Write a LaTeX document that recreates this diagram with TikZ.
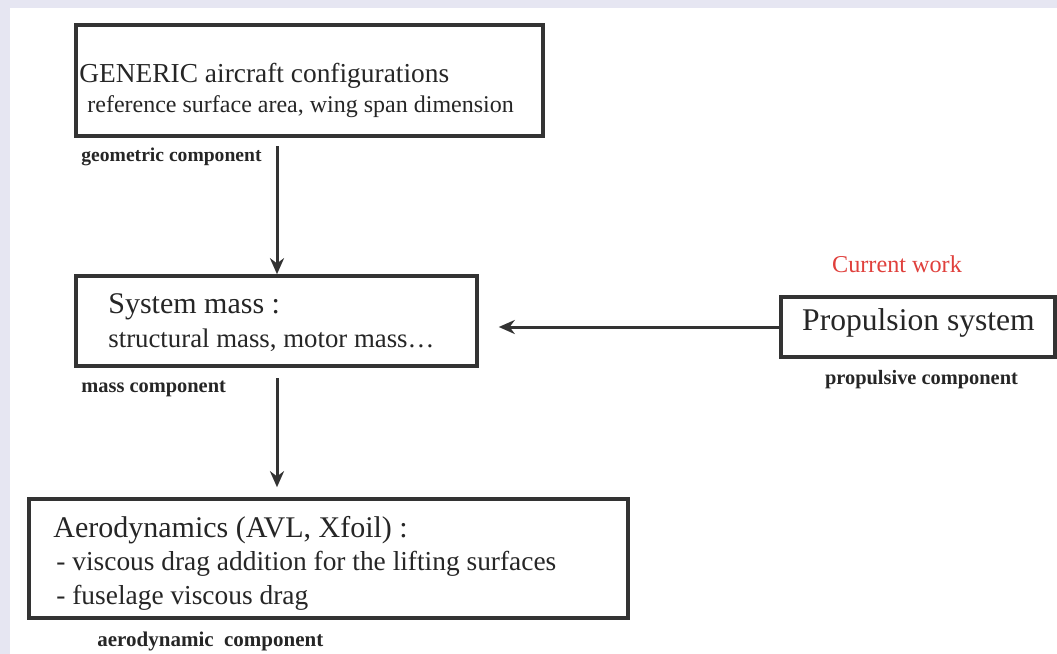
\documentclass[tikz,border=0pt]{standalone}
\usepackage{fontspec}
\setmainfont{Liberation Serif}
\usepackage{xcolor}
\usetikzlibrary{arrows.meta,positioning}

\definecolor{framebg}{HTML}{E6E6F2}
\definecolor{boxgray}{HTML}{333333}
\definecolor{txtgray}{HTML}{262626}
\definecolor{workred}{HTML}{E0403C}

\tikzset{
	box/.style={draw=boxgray, line width=1.8pt, inner sep=0pt},
	lbl/.style={anchor=base west, inner sep=0pt, text=txtgray},
	comp/.style={lbl, font=\bfseries\fontsize{10.2}{12}\selectfont},
	arr/.style={draw=boxgray, line width=1.5pt, -{Stealth[length=8pt,width=7pt]}}
}

\begin{document}
\begin{tikzpicture}[x=0.5pt, y=-0.5pt]
		\useasboundingbox (0,0) rectangle (1057,654);
		\fill[framebg] (0,0) rectangle (1057,654);
		\fill[white] (10,8) rectangle (1057,654);
		
		\node[box, minimum width=233.5pt, minimum height=55.5pt] (geom) at (309.5,80.5) {};
		\node[box, minimum width=200.5pt, minimum height=45pt] (mass) at (276.5,321) {};
		\node[box, minimum width=299.5pt, minimum height=59.5pt] (aero) at (328.5,558.5) {};
		\node[box, minimum width=137pt, minimum height=30pt] (prop) at (918,327) {};
		
		\node[lbl, font=\fontsize{13.7}{16}\selectfont] (geomtitle) at (79,82) {GENERIC aircraft configurations};
		\node[lbl, font=\fontsize{12}{14}\selectfont] (geomsub) at (87,112) {reference surface area, wing span dimension};
		\node[comp, font=\bfseries\fontsize{9.8}{12}\selectfont] (geomlbl) at (81,161) {geometric component};
		
		\node[lbl, font=\fontsize{15}{18}\selectfont] (masstitle) at (108,313) {System mass :};
		\node[lbl, font=\fontsize{13.4}{16}\selectfont] (masssub) at (108,347) {structural mass, motor mass\ldots};
		\node[comp] (masslbl) at (81,392) {mass component};
		
		\node[lbl, font=\fontsize{15}{18}\selectfont] (aerotitle) at (53,537) {Aerodynamics (AVL, Xfoil) :};
		\node[lbl, font=\fontsize{13.7}{16}\selectfont] (aerosub) at (56,570) {- viscous drag addition for the lifting surfaces};
		\node[lbl, font=\fontsize{13.7}{16}\selectfont] (aerosubb) at (56,604) {- fuselage viscous drag};
		\node[comp, font=\bfseries\fontsize{10.5}{12}\selectfont] (aerolbl) at (97,646) {aerodynamic\ \ component};
		
		\node[lbl, anchor=base, text=workred, font=\fontsize{12.1}{14}\selectfont] (work) at (897,272) {Current work};
		\node[lbl, anchor=base, font=\fontsize{15.8}{18}\selectfont] (proptitle) at (918.5,330) {Propulsion system};
		\node[comp, anchor=base] (proplbl) at (921.5,384) {propulsive component};
		
		\coordinate (a1) at (277,146);
		\coordinate (a2) at (277,378);
		\draw[arr] (a1) -- (a1 |- mass.north);
		\draw[arr, shorten >=5pt] (a2) -- (a2 |- aero.north);
		\draw[arr, shorten >=10pt] (prop.west) -- (prop.west -| mass.east);
\end{tikzpicture}
\end{document}
